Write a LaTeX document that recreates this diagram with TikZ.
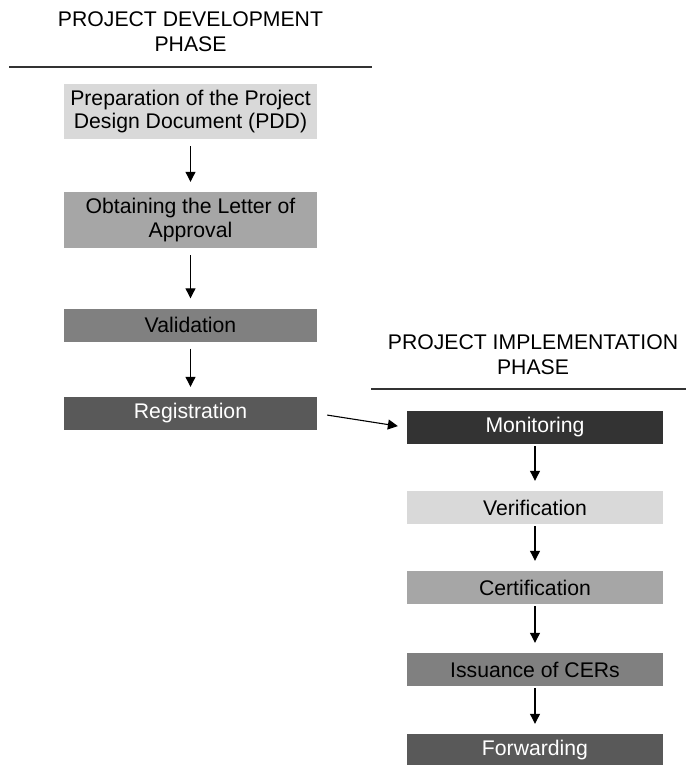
\documentclass[tikz,border=0pt]{standalone}
\usepackage{fontspec}
\setmainfont{Liberation Sans}
\usepackage{tikz}
\definecolor{stepLight}{RGB}{217, 217, 217}
\definecolor{stepMid}{RGB}{166, 166, 166}
\definecolor{stepGrey}{RGB}{128, 128, 128}
\definecolor{stepDark}{RGB}{89, 89, 89}
\definecolor{stepDarkest}{RGB}{51, 51, 51}
\usetikzlibrary{arrows.meta, positioning}

\begin{document}
\begin{tikzpicture}[
    x=1pt, y=-1pt,
    font=\fontsize{21.2}{23.5}\selectfont,
    phasebox/.style={rectangle, inner sep=0pt, minimum width=253pt, minimum height=33pt, align=center},
    implbox/.style={phasebox, minimum width=256pt},
    title/.style={align=center, inner sep=0pt, font=\fontsize{21.2}{25}\selectfont},
    rule/.style={line width=1.3pt, black!80},
    flow/.style={-{Triangle[width=10pt, length=10pt]}, line width=1.1pt, shorten >=10pt}
]
    \useasboundingbox (0,0) rectangle (686,765);

    % development phase
    \node[title] (devtitle) at (190.5,32) {PROJECT DEVELOPMENT\\PHASE};
    \coordinate (devruleL) at (9,67);
    \coordinate (devruleR) at (372,67);
    \draw[rule] (devruleL) -- (devruleR);

    \node[phasebox, fill=stepLight, minimum height=55pt] (pdd) at (190.5,111.5) {Preparation of the Project\\Design Document (PDD)};
    \node[phasebox, fill=stepMid, minimum height=56pt] (loa) at (190.5,220) {Obtaining the Letter of\\Approval};
    \node[phasebox, fill=stepGrey] (valid) at (190.5,325) {Validation};
    \node[phasebox, fill=stepDark, text=white] (regist) at (190.5,413.5) {Registration};

    \draw[flow, shorten <=7pt] (pdd) -- (loa);
    \draw[flow, shorten <=7pt] (loa) -- (valid);
    \draw[flow, shorten <=7pt] (valid) -- (regist);

    % implementation phase
    \node[title] (impltitle) at (533,355) {PROJECT IMPLEMENTATION\\PHASE};
    \coordinate (implruleL) at (371,389);
    \coordinate (implruleR) at (686,389);
    \draw[rule] (implruleL) -- (implruleR);

    \node[implbox, fill=stepDarkest, text=white] (monit) at (535,427.5) {Monitoring};
    \node[implbox, fill=stepLight] (verif) at (535,507.5) {Verification};
    \node[implbox, fill=stepMid] (certif) at (535,587.5) {Certification};
    \node[implbox, fill=stepGrey] (issue) at (535,669.5) {Issuance of CERs};
    \node[implbox, fill=stepDark, text=white] (forward) at (535,750.5) {Forwarding};

    \draw[flow, shorten <=2pt] (monit) -- (verif);
    \draw[flow, shorten <=2pt] (verif) -- (certif);
    \draw[flow, shorten <=2pt] (certif) -- (issue);
    \draw[flow, shorten <=2pt] (issue) -- (forward);

    \draw[flow, shorten <=10pt, shorten >=9pt] (regist.east) -- (monit.west);
\end{tikzpicture}
\end{document}
